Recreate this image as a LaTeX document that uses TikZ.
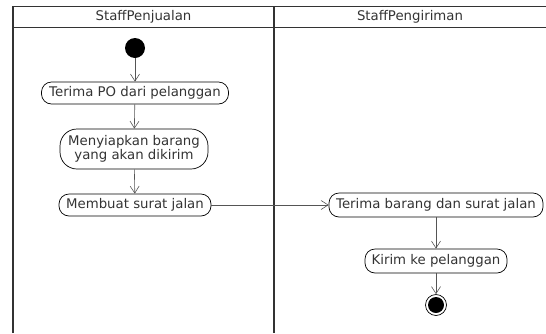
\documentclass[tikz,border=0pt]{standalone}
\usepackage{fontspec}
\setmainfont{DejaVu Sans}
\usetikzlibrary{arrows.meta}
\definecolor{border}{HTML}{333333}
\definecolor{flow}{HTML}{555555}
\begin{document}
\begin{tikzpicture}[x=1pt,y=-1pt,
  font=\fontsize{13.3}{15}\selectfont,
  act/.style={draw=black, line width=0.7pt, rounded corners=10pt, inner sep=0pt, align=center, text=black!80},
  lane/.style={draw=border, line width=1.05pt},
  flowarr/.style={draw=flow, line width=0.6pt, -{Straight Barb[length=7pt,width=9pt,line width=0.6pt]}},
  hdr/.style={text=black!80}]
\useasboundingbox (0,0) rectangle (546,333);
% swimlanes
\draw[lane] (13,333) -- (13,6.5) -- (546,6.5);
\draw[lane] (13,27.5) -- (546,27.5);
\draw[lane] (274,6.5) -- (274,333);
\node[hdr] (h1) at (143.5,17) {StaffPenjualan};
\node[hdr] (h2) at (410,17) {StaffPengiriman};
% nodes
\node[circle, fill=black, minimum size=20pt, inner sep=0pt] (start) at (135,48) {};
\node[act, minimum width=187pt, minimum height=22pt] (a1) at (135,93) {Terima PO dari pelanggan};
\node[act, minimum width=148pt, minimum height=40pt, rounded corners=17pt] (a2) at (134,149) {Menyiapkan barang\\[-1pt]yang akan dikirim};
\node[act, minimum width=152pt, minimum height=22pt] (a3) at (135,205) {Membuat surat jalan};
\node[act, minimum width=214pt, minimum height=24pt] (b1) at (436,205) {Terima barang dan surat jalan};
\node[act, minimum width=142pt, minimum height=24pt] (b2) at (436,261) {Kirim ke pelanggan};
\node[circle, draw=black, line width=0.7pt, minimum size=21pt, inner sep=0pt] (end) at (436,305) {};
\node[circle, fill=black, minimum size=16pt, inner sep=0pt] (endin) at (end.center) {};
% flows
\draw[flowarr] (start) -- (a1);
\draw[flowarr] (a1) -- (a2);
\draw[flowarr] (a2) -- (a3);
\draw[flowarr] (a3) -- (b1);
\draw[flowarr] (b1) -- (b2);
\draw[flowarr] (b2) -- (end);
\end{tikzpicture}
\end{document}
